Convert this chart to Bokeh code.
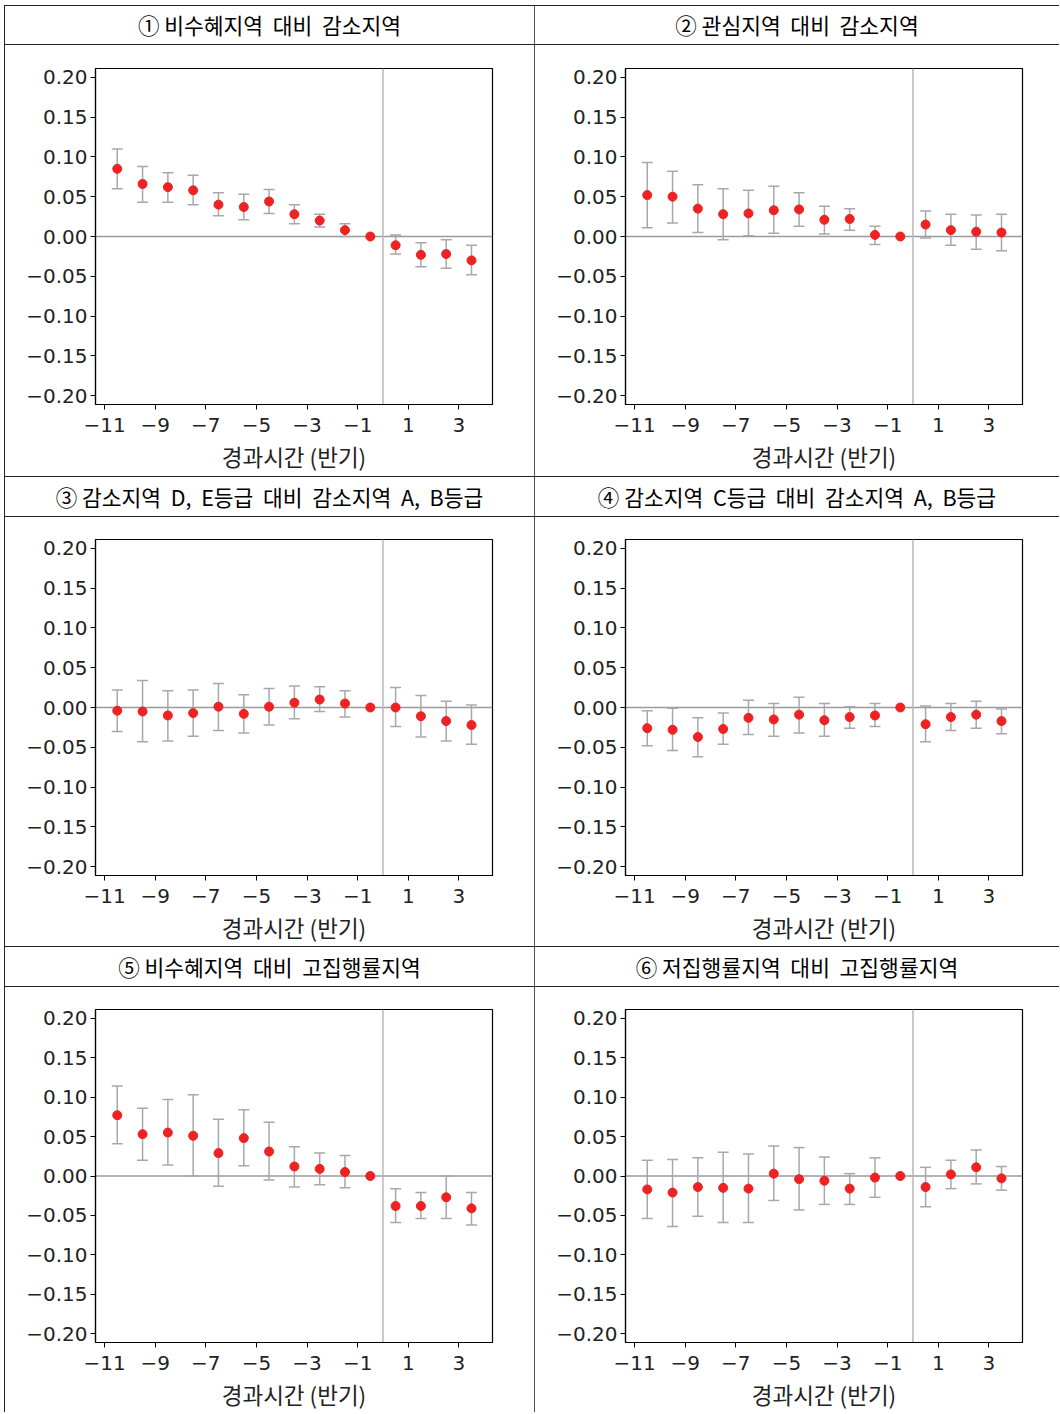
from bokeh.plotting import figure
from bokeh.models import (ColumnDataSource, Whisker, TeeHead, Span, FixedTicker,
                          CustomJSTickFormatter, Div, Spacer, Range1d)
from bokeh.layouts import column, row
from bokeh.embed import file_html
from bokeh.resources import INLINE

# ---------------- data ----------------
period_pos = [-10.5, -9.5, -8.5, -7.5, -6.5, -5.5, -4.5, -3.5, -2.5, -1.5, -0.5, 0.5, 1.5, 2.5, 3.5]
x_ticks = [-11, -9, -7, -5, -3, -1, 1, 3]
y_ticks = [-0.20, -0.15, -0.10, -0.05, 0.0, 0.05, 0.10, 0.15, 0.20]
x_label = "경과시간 (반기)"

titles = [
    "① 비수혜지역  대비  감소지역",
    "② 관심지역  대비  감소지역",
    "③ 감소지역  D,  E등급  대비  감소지역  A,  B등급",
    "④ 감소지역  C등급  대비  감소지역  A,  B등급",
    "⑤ 비수혜지역  대비  고집행률지역",
    "⑥ 저집행률지역  대비  고집행률지역",
]

coef1 = [0.085, 0.066, 0.062, 0.058, 0.040, 0.037, 0.044, 0.028, 0.020, 0.008, 0.0, -0.011, -0.023, -0.022, -0.030]
lo1 = [0.060, 0.043, 0.043, 0.040, 0.026, 0.021, 0.029, 0.016, 0.012, 0.000, None, -0.022, -0.038, -0.040, -0.048]
hi1 = [0.110, 0.088, 0.080, 0.077, 0.055, 0.053, 0.059, 0.040, 0.028, 0.016, None, 0.002, -0.008, -0.004, -0.011]

coef2 = [0.052, 0.050, 0.035, 0.028, 0.029, 0.033, 0.034, 0.021, 0.022, 0.002, 0.0, 0.015, 0.008, 0.006, 0.005]
lo2 = [0.011, 0.017, 0.005, -0.004, 0.001, 0.004, 0.013, 0.003, 0.008, -0.010, None, -0.002, -0.011, -0.016, -0.018]
hi2 = [0.093, 0.082, 0.065, 0.060, 0.058, 0.063, 0.055, 0.038, 0.035, 0.013, None, 0.032, 0.028, 0.027, 0.028]

coef3 = [-0.004, -0.005, -0.010, -0.007, 0.001, -0.008, 0.001, 0.006, 0.010, 0.005, 0.0, 0.000, -0.011, -0.017, -0.022]
lo3 = [-0.030, -0.043, -0.042, -0.036, -0.029, -0.032, -0.022, -0.014, -0.005, -0.012, None, -0.024, -0.037, -0.042, -0.046]
hi3 = [0.022, 0.034, 0.021, 0.022, 0.030, 0.016, 0.024, 0.027, 0.026, 0.021, None, 0.025, 0.015, 0.008, 0.003]

coef4 = [-0.026, -0.028, -0.037, -0.027, -0.013, -0.015, -0.009, -0.016, -0.012, -0.010, 0.0, -0.021, -0.012, -0.009, -0.017]
lo4 = [-0.048, -0.054, -0.062, -0.046, -0.034, -0.036, -0.032, -0.036, -0.026, -0.024, None, -0.043, -0.029, -0.026, -0.033]
hi4 = [-0.004, -0.001, -0.013, -0.007, 0.009, 0.005, 0.013, 0.005, 0.001, 0.005, None, 0.002, 0.005, 0.008, -0.002]

coef5 = [0.077, 0.053, 0.055, 0.051, 0.029, 0.048, 0.031, 0.012, 0.009, 0.005, 0.0, -0.038, -0.038, -0.027, -0.041]
lo5 = [0.041, 0.020, 0.014, 0.000, -0.013, 0.013, -0.005, -0.014, -0.011, -0.015, None, -0.059, -0.054, -0.054, -0.062]
hi5 = [0.114, 0.086, 0.097, 0.103, 0.072, 0.084, 0.068, 0.037, 0.029, 0.026, None, -0.016, -0.021, 0.000, -0.021]

coef6 = [-0.017, -0.021, -0.014, -0.015, -0.016, 0.003, -0.004, -0.006, -0.016, -0.002, 0.0, -0.014, 0.002, 0.011, -0.003]
lo6 = [-0.054, -0.064, -0.051, -0.059, -0.059, -0.031, -0.043, -0.036, -0.036, -0.027, None, -0.039, -0.016, -0.010, -0.018]
hi6 = [0.020, 0.021, 0.023, 0.030, 0.028, 0.038, 0.036, 0.024, 0.003, 0.023, None, 0.011, 0.020, 0.033, 0.012]

panels = [(coef1, lo1, hi1), (coef2, lo2, hi2), (coef3, lo3, hi3),
          (coef4, lo4, hi4), (coef5, lo5, hi5), (coef6, lo6, hi6)]

# ---------------- styling ----------------
LEFT_W = 529
RIGHT_W = 524
FRAME_W = 397
FRAME_H = 336
LINE_C = "#222222"
VLINE_C = "#555555"
ERR_C = "#a8a8a8"
DOT_C = "#ee2222"
NUM_FONT = "DejaVu Sans"
KR_FONT = "Noto Sans CJK KR"


def make_plot(idx, h, top):
    coef, lo, hi = panels[idx]
    left_col = idx % 2 == 0
    cw = LEFT_W if left_col else RIGHT_W
    mb_left = 90
    mb_right = cw - mb_left - FRAME_W
    mb_bottom = h - top - FRAME_H
    p = figure(width=cw, height=h, x_range=Range1d(-11.36, 4.33),
               y_range=Range1d(-0.211, 0.211), output_backend="svg",
               toolbar_location=None, min_border_left=mb_left,
               min_border_right=mb_right, min_border_top=top,
               min_border_bottom=mb_bottom)
    p.outline_line_color = "black"
    p.outline_line_width = 1.2
    p.grid.visible = False
    p.background_fill_color = "white"
    p.border_fill_color = "white"

    p.add_layout(Span(location=0, dimension="width", line_color="#9a9a9a",
                      line_width=1.5, level="underlay"))
    p.add_layout(Span(location=0, dimension="height", line_color="#b8b8b8",
                      line_width=1.5, level="underlay"))

    ex = [period_pos[i] for i in range(len(lo)) if lo[i] is not None]
    el = [lo[i] for i in range(len(lo)) if lo[i] is not None]
    eh = [hi[i] for i in range(len(hi)) if hi[i] is not None]
    esrc = ColumnDataSource(dict(x=ex, lo=el, hi=eh))
    w = Whisker(source=esrc, base="x", lower="lo", upper="hi",
                line_color=ERR_C, line_width=1.5,
                upper_head=TeeHead(size=11, line_color=ERR_C, line_width=1.5),
                lower_head=TeeHead(size=11, line_color=ERR_C, line_width=1.5))
    p.add_layout(w)

    src = ColumnDataSource(dict(x=period_pos, y=coef))
    p.scatter("x", "y", source=src, size=9, fill_color=DOT_C, line_color=DOT_C)

    p.xaxis.ticker = FixedTicker(ticks=x_ticks)
    p.yaxis.ticker = FixedTicker(ticks=y_ticks)
    p.xaxis.formatter = CustomJSTickFormatter(
        code="return (tick < 0 ? '\\u2212' : '') + Math.abs(tick).toFixed(0);")
    p.yaxis.formatter = CustomJSTickFormatter(
        code="return (tick < -1e-9 ? '\\u2212' : '') + Math.abs(tick).toFixed(2);")
    for ax in (p.xaxis[0], p.yaxis[0]):
        ax.axis_line_color = "black"
        ax.axis_line_width = 1.2
        ax.major_tick_line_color = "black"
        ax.major_tick_line_width = 1
        ax.major_tick_out = 5
        ax.major_tick_in = 0
        ax.minor_tick_line_color = None
        ax.major_label_text_font = NUM_FONT
        ax.major_label_text_font_size = "20px"
        ax.major_label_text_color = "#222222"
    p.yaxis.major_label_standoff = 3
    p.xaxis.major_label_standoff = 8
    p.xaxis.axis_label = x_label
    p.xaxis.axis_label_text_font = KR_FONT
    p.xaxis.axis_label_text_font_style = "normal"
    p.xaxis.axis_label_text_font_size = "22.5px"
    p.xaxis.axis_label_text_color = "#222222"
    p.xaxis.axis_label_standoff = 5
    return p


def header(idx, h):
    cw = LEFT_W if idx % 2 == 0 else RIGHT_W
    return Div(text=titles[idx], width=cw, height=h, margin=(0, 0, 0, 0),
               styles={"font-family": "'Noto Sans CJK KR', sans-serif",
                       "font-size": "21.5px", "color": "#000000",
                       "text-align": "center", "line-height": f"{h}px",
                       "white-space": "pre", "overflow": "hidden",
                       "background-color": "white"})


def hline():
    return Spacer(width=LEFT_W + RIGHT_W + 2, height=1, margin=(0, 0, 0, 0),
                  styles={"background-color": LINE_C})


def vline(h):
    return Spacer(width=1, height=h, margin=(0, 0, 0, 0),
                  styles={"background-color": VLINE_C})


def vline_left(h):
    return Spacer(width=1, height=h, margin=(0, 0, 0, 0),
                  styles={"background-color": LINE_C})


def band(h, a, b):
    return row([vline_left(h), a, vline(h), b], spacing=0)


rows = [
    hline(),
    band(38, header(0, 38), header(1, 38)),
    hline(),
    band(431, make_plot(0, 431, 23), make_plot(1, 431, 23)),
    hline(),
    band(39, header(2, 39), header(3, 39)),
    hline(),
    band(429, make_plot(2, 429, 22), make_plot(3, 429, 22)),
    hline(),
    band(39, header(4, 39), header(5, 39)),
    hline(),
    band(425, make_plot(4, 425, 22), make_plot(5, 425, 22)),
]
table = column(rows, spacing=0)
root = column([Spacer(width=10, height=5, margin=(0, 0, 0, 0)),
               row([Spacer(width=4, height=10, margin=(0, 0, 0, 0)), table], spacing=0)],
              spacing=0)

open("out.html", "w").write(file_html(root, INLINE, title="event study"))
